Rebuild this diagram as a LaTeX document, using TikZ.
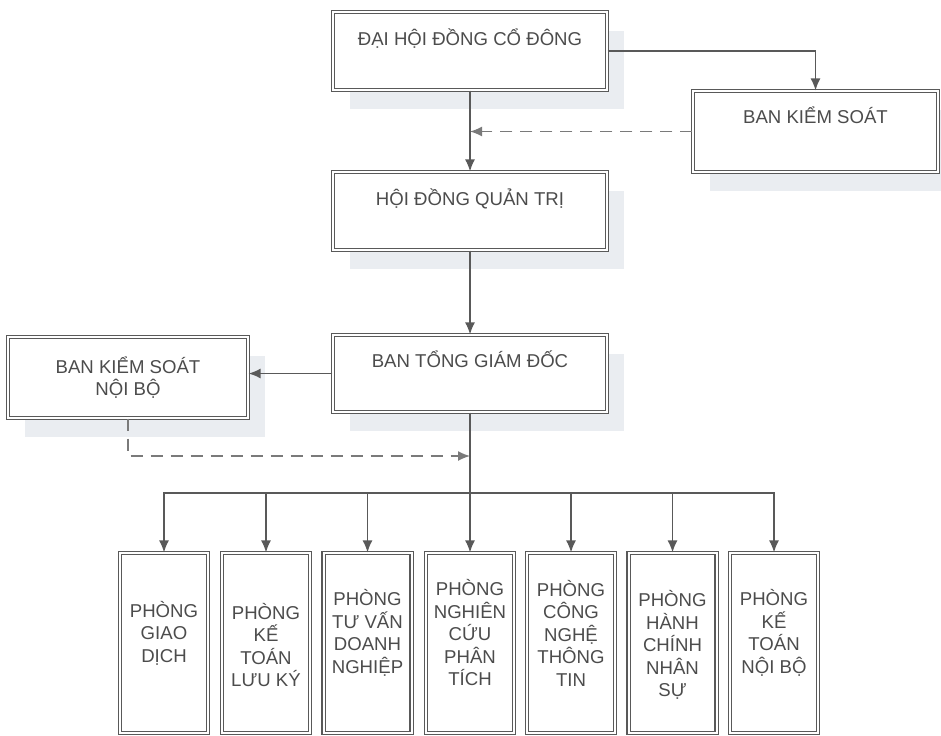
\documentclass[tikz,border=0pt]{standalone}
\usepackage{fontspec}
\setmainfont{Liberation Sans}
\usetikzlibrary{shapes,arrows.meta,shadows}
\definecolor{linegray}{gray}{0.35}
\definecolor{shadowgray}{RGB}{234,237,241}
\tikzstyle{frame} = [rectangle, draw=linegray, double=white, double distance=1pt,
    line width=0.6pt, fill=white, minimum width=137pt, minimum height=39pt,
    drop shadow={shadow xshift=8.5pt, shadow yshift=-9.5pt, fill=shadowgray, opacity=1}]
\tikzstyle{box} = [frame, text height=8pt, text depth=14pt]
\tikzstyle{dept} = [rectangle, draw=linegray, double=white, double distance=1pt,
    line width=0.6pt, fill=white, minimum width=44pt, minimum height=90pt]
\tikzstyle{depttext} = [align=center, inner sep=0pt]
\tikzstyle{wire} = [draw=linegray, line width=0.7pt]
\tikzstyle{line} = [wire, -{Latex[length=6pt, width=5pt]}]
\tikzstyle{dashline} = [draw=linegray!80, line width=0.7pt, dash pattern=on 6pt off 4pt,
    -{Latex[length=6pt, width=5pt]}]

\begin{document}
\begin{tikzpicture}[x=0.5pt, y=-0.5pt, text=black!70,
    font=\fontsize{9.3}{11.25}\selectfont]
	\useasboundingbox (0,0) rectangle (941,735);

		% upper levels
		\node [box] (dhdcd) at (470,51) {ĐẠI HỘI ĐỒNG CỔ ĐÔNG};
		\node [box, minimum width=122.5pt, minimum height=40.5pt, text depth=16.5pt] (bks) at (815.5,131.5) {BAN KIỂM SOÁT};
		\node [box] (hdqt) at (470,211) {HỘI ĐỒNG QUẢN TRỊ};
		\node [box, minimum height=38.5pt] (btgd) at (470,373.5) {BAN TỔNG GIÁM ĐỐC};
		\node [frame, minimum width=120pt, minimum height=40.5pt, align=center] (bksnb) at (128,377.5) {BAN KIỂM SOÁT\\NỘI BỘ};

		% departments
		\node [dept] (gd) at (164,643) {};
		\node [dept] (kt) at (266,643) {};
		\node [dept] (tv) at (367.5,643) {};
		\node [dept] (nc) at (470,643) {};
		\node [dept] (cn) at (571,643) {};
		\node [dept] (hc) at (672.5,643) {};
		\node [dept] (ktnb) at (774,643) {};

		\node [depttext] (gd-text) at ([yshift=5pt]gd.center) {PHÒNG\\GIAO\\DỊCH};
		\node [depttext] (kt-text) at ([yshift=-1pt]kt.center) {PHÒNG\\KẾ\\TOÁN\\LƯU KÝ};
		\node [depttext] (tv-text) at ([yshift=5pt]tv.center) {PHÒNG\\TƯ VẤN\\DOANH\\NGHIỆP};
		\node [depttext] (nc-text) at ([yshift=5pt]nc.center) {PHÒNG\\NGHIÊN\\CỨU\\PHÂN\\TÍCH};
		\node [depttext] (cn-text) at ([yshift=5pt]cn.center) {PHÒNG\\CÔNG\\NGHỆ\\THÔNG\\TIN};
		\node [depttext] (hc-text) at ([yshift=-1pt]hc.center) {PHÒNG\\HÀNH\\CHÍNH\\NHÂN\\SỰ};
		\node [depttext] (ktnb-text) at ([yshift=5pt]ktnb.center) {PHÒNG\\KẾ\\TOÁN\\NỘI BỘ};

		\coordinate (bus) at (470,493);
		\coordinate (ksnb) at (470,456);

		% connectors
		\path [line] (dhdcd.east) -| (bks.north);
		\path [dashline] (bks.west) -- (dhdcd.south |- bks.west);
		\path [line] (dhdcd) -- (hdqt);
		\path [line] (hdqt) -- (btgd);
		\path [line] (btgd.west) -- (btgd.west -| bksnb.east);
		\path [dashline] (bksnb.south) |- (ksnb);
		\path [wire] (btgd.south) -- (bus);
		\foreach \d in {gd,kt,tv,nc,cn,hc,ktnb}
			\path [line] (bus) -| (\d.north);
	\end{tikzpicture}
\end{document}
